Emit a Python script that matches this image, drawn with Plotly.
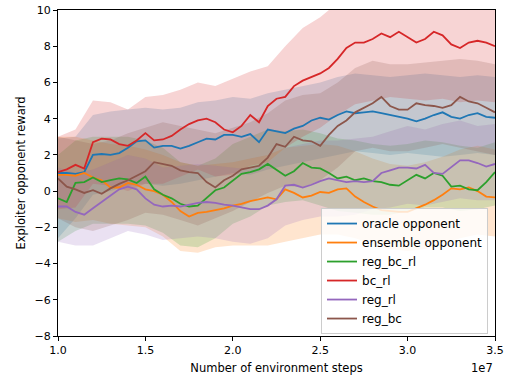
import plotly.graph_objects as go

# x in units of 1e7 environment steps
steps = [round(1.0 + 0.05 * i, 2) for i in range(51)]
band_steps = [round(1.0 + 0.1 * i, 1) for i in range(26)]

series_names = ["oracle opponent", "ensemble opponent", "reg_bc_rl", "bc_rl", "reg_rl", "reg_bc"]
colors = ["#1f77b4", "#ff7f0e", "#2ca02c", "#d62728", "#9467bd", "#8c564b"]

oracle = [1.0, 1.0, 0.95, 1.05, 2.0, 2.05, 2.0, 2.1, 2.4, 2.75, 2.8, 2.4, 2.5, 2.5, 2.35, 2.5,
          2.7, 2.9, 2.85, 3.1, 3.1, 3.0, 3.15, 2.7, 3.4, 3.3, 3.2, 3.45, 3.6, 3.9, 4.05, 3.95,
          4.2, 4.4, 4.3, 4.35, 4.4, 4.3, 4.2, 4.1, 4.0, 3.85, 4.0, 4.2, 4.35, 4.1, 4.0, 4.2,
          4.3, 4.1, 4.05]
ensemble = [0.9, 0.9, 0.85, 1.0, 0.75, 0.6, 0.2, 0.2, 0.45, 0.35, 0.1, 0.0, -0.2, -0.6, -1.1,
            -1.4, -1.2, -1.15, -1.05, -0.95, -0.8, -0.7, -0.55, -0.45, -0.35, -0.45, 0.1, -0.1,
            -0.35, -0.25, -0.05, -0.1, 0.1, 0.15, -0.3, -0.6, -0.85, -1.05, -1.1, -1.15, -1.15,
            -0.95, -0.75, -0.5, -0.2, 0.15, 0.1, 0.2, 0.0, -0.3, -0.35]
reg_bc_rl = [-0.4, -0.6, 0.45, 0.5, 0.75, 0.5, 0.6, 0.7, 0.65, 0.45, 0.8, 0.1, -0.2, -0.4, -0.7,
             -0.85, -0.8, -0.35, 0.05, 0.2, 0.55, 0.95, 1.05, 1.2, 1.5, 1.15, 0.85, 1.1, 1.55,
             1.3, 1.25, 1.0, 0.7, 0.8, 0.6, 0.7, 0.55, 0.5, 0.35, 0.3, 0.6, 0.9, 0.7, 1.0, 0.85,
             0.25, 0.3, 0.1, 0.05, 0.5, 1.05]
bc_rl = [1.05, 1.2, 1.45, 1.25, 2.7, 2.9, 2.85, 2.6, 2.5, 2.8, 3.2, 2.8, 2.85, 3.05, 3.4, 3.7,
         3.9, 4.0, 3.8, 3.4, 3.25, 3.6, 4.2, 3.8, 4.7, 5.1, 5.2, 5.8, 6.1, 6.3, 6.5, 6.8, 7.3,
         7.9, 8.2, 8.2, 8.4, 8.7, 8.5, 8.8, 8.5, 8.2, 8.4, 8.8, 8.6, 8.1, 7.9, 8.2, 8.3, 8.2, 8.0]
reg_rl = [-0.85, -0.85, -1.15, -1.3, -0.95, -0.6, -0.3, 0.1, 0.25, 0.1, -0.4, -0.75, -0.85, -0.8,
          -0.85, -0.75, -0.65, -0.6, -0.65, -0.75, -0.8, -0.9, -1.0, -1.0, -0.8, -0.45, 0.3, 0.35,
          0.2, 0.35, 0.55, 0.7, 0.6, 0.5, 0.55, 0.5, 0.55, 1.0, 1.15, 1.3, 1.3, 1.25, 1.45, 1.0,
          0.95, 1.3, 1.7, 1.7, 1.55, 1.35, 1.5]
reg_bc = [0.7, 0.25, 0.1, -0.1, 0.05, -0.15, 0.15, 0.4, 0.6, 0.85, 1.1, 1.6, 1.5, 1.4, 1.15, 1.05,
          1.0, 0.5, 0.2, 0.6, 0.85, 1.2, 1.3, 1.4, 1.85, 2.6, 2.45, 3.0, 2.8, 2.75, 2.5, 3.1, 3.6,
          3.9, 4.35, 4.6, 4.85, 5.2, 4.7, 4.5, 4.5, 4.85, 4.75, 4.7, 4.6, 4.75, 5.2, 4.95, 4.85,
          4.6, 4.35]
means = [oracle, ensemble, reg_bc_rl, bc_rl, reg_rl, reg_bc]

oracle_hi = [2.9, 3.0, 4.2, 4.4, 4.5, 4.6, 4.5, 4.6, 4.9, 5.0, 5.2, 5.1, 5.4, 5.6, 5.8, 6.0, 6.3,
             6.5, 6.4, 6.3, 6.4, 6.5, 6.4, 6.3, 6.4, 6.3]
oracle_lo = [-2.6, -1.5, -0.2, 0.0, 0.3, 0.4, 0.3, 0.4, 0.6, 0.8, 1.0, 0.9, 1.2, 1.4, 1.6, 1.8,
             2.0, 2.2, 2.1, 2.0, 2.1, 2.0, 1.9, 2.0, 2.1, 2.0]
ensemble_hi = [3.0, 3.0, 2.8, 2.6, 2.5, 2.3, 2.0, 1.6, 1.4, 1.5, 1.6, 1.8, 2.0, 2.4, 2.5, 2.6,
               2.5, 2.2, 1.8, 1.5, 1.4, 1.6, 1.9, 2.3, 2.5, 2.3]
ensemble_lo = [-1.5, -1.7, -1.6, -1.8, -1.9, -2.0, -2.5, -3.3, -3.4, -3.1, -3.0, -3.0, -3.0, -2.8,
               -2.6, -2.4, -2.4, -2.6, -2.9, -3.2, -3.3, -3.2, -2.9, -2.6, -2.4, -2.5]
reg_bc_rl_hi = [2.0, 2.8, 3.0, 3.0, 3.0, 2.8, 2.4, 1.6, 1.4, 1.8, 2.6, 3.0, 3.4, 3.3, 3.4, 3.2,
                2.9, 2.8, 2.6, 2.5, 2.6, 2.8, 2.7, 2.5, 2.4, 2.7]
reg_bc_rl_lo = [-2.8, -2.2, -1.8, -1.8, -1.8, -1.9, -2.3, -3.0, -3.1, -2.6, -1.8, -1.4, -0.8, -0.6,
                -0.5, -0.8, -1.1, -1.2, -1.3, -1.3, -1.1, -0.9, -0.9, -1.1, -1.0, -0.8]
bc_rl_hi = [3.0, 3.4, 5.0, 4.9, 4.5, 5.2, 5.3, 5.6, 6.0, 5.8, 6.2, 6.6, 6.9, 8.0, 9.0, 9.6, 10.4,
            10.8, 11.0, 11.2, 11.2, 11.3, 11.2, 11.1, 11.2, 11.0]
bc_rl_lo = [-1.0, -0.9, 0.4, 0.3, 0.0, 0.4, 0.4, 0.8, 1.2, 0.8, 0.9, 1.4, 1.6, 2.4, 3.0, 3.5,
            4.2, 4.8, 5.0, 5.2, 5.1, 5.0, 5.1, 4.9, 5.0, 4.9]
reg_rl_hi = [1.3, 1.0, 1.2, 1.6, 2.0, 1.8, 1.3, 1.4, 1.5, 1.4, 1.3, 1.2, 1.6, 2.4, 2.6, 2.8, 2.8,
             2.9, 3.0, 3.3, 3.6, 3.4, 3.7, 3.9, 3.6, 3.7]
reg_rl_lo = [-2.8, -3.0, -3.0, -2.6, -2.2, -2.4, -2.7, -2.6, -2.5, -2.6, -2.8, -2.9, -2.6, -1.9,
             -1.6, -1.4, -1.4, -1.3, -1.0, -0.9, -0.7, -0.8, -0.6, -0.4, -0.5, -0.5]
reg_bc_hi = [3.0, 2.8, 2.6, 2.8, 3.2, 3.5, 3.8, 3.6, 3.4, 3.2, 3.5, 3.8, 4.3, 5.0, 5.3, 5.4, 6.0,
             6.8, 7.2, 7.0, 7.0, 7.1, 7.2, 7.3, 7.2, 7.0]
reg_bc_lo = [-1.5, -2.0, -2.2, -1.9, -1.6, -1.2, -1.3, -1.6, -1.9, -1.5, -1.1, -0.6, -0.1, 0.3,
             0.2, 0.6, 1.3, 2.2, 2.4, 2.2, 2.2, 2.4, 2.6, 2.4, 2.2, 2.0]
uppers = [oracle_hi, ensemble_hi, reg_bc_rl_hi, bc_rl_hi, reg_rl_hi, reg_bc_hi]
lowers = [oracle_lo, ensemble_lo, reg_bc_rl_lo, bc_rl_lo, reg_rl_lo, reg_bc_lo]

x_ticks = [1.0, 1.5, 2.0, 2.5, 3.0, 3.5]
y_ticks = [-8, -6, -4, -2, 0, 2, 4, 6, 8, 10]


def rgba(hex_color, a):
    h = hex_color.lstrip("#")
    r, g, b = int(h[0:2], 16), int(h[2:4], 16), int(h[4:6], 16)
    return f"rgba({r},{g},{b},{a})"


fig = go.Figure()
for name, c, lo, hi in zip(series_names, colors, lowers, uppers):
    fig.add_trace(go.Scatter(x=band_steps, y=lo, mode="lines", line=dict(width=0),
                             showlegend=False, hoverinfo="skip"))
    fig.add_trace(go.Scatter(x=band_steps, y=hi, mode="lines", line=dict(width=0),
                             fill="tonexty", fillcolor=rgba(c, 0.2),
                             showlegend=False, hoverinfo="skip"))
for name, c, m in zip(series_names, colors, means):
    fig.add_trace(go.Scatter(x=steps, y=m, mode="lines", name=name,
                             line=dict(color=c, width=1.8)))

FAM = "DejaVu Sans"
tick_font = dict(family=FAM, size=11, color="#000000")
title_font = dict(family=FAM, size=11.5, color="#000000")
fig.update_layout(
    width=505, height=376,
    margin=dict(l=58, r=10, t=10, b=40),
    paper_bgcolor="white", plot_bgcolor="white",
    font=tick_font,
    showlegend=True,
    legend=dict(x=0.984, y=0.006, xanchor="right", yanchor="bottom",
                traceorder="normal",
                bgcolor="rgba(255,255,255,0.8)", bordercolor="#cccccc", borderwidth=1,
                font=dict(family=FAM, size=12, color="#000000"),
                tracegroupgap=0),
)
fig.update_xaxes(range=[1.0, 3.5], tickvals=x_ticks, ticktext=[f"{v:.1f}" for v in x_ticks],
                 showgrid=False, zeroline=False, showline=True, linecolor="black",
                 linewidth=1, mirror=True, ticks="outside", ticklen=4, tickcolor="black",
                 automargin=False, tickfont=tick_font,
                 title=dict(text="Number of environment steps", standoff=7, font=title_font))
fig.update_yaxes(range=[-8, 10], tickvals=y_ticks,
                 ticktext=[("\u2212" + str(-v)) if v < 0 else str(v) for v in y_ticks],
                 showgrid=False, zeroline=False, showline=True, linecolor="black",
                 linewidth=1, mirror=True, ticks="outside", ticklen=4, tickcolor="black",
                 automargin=False, tickfont=tick_font,
                 title=dict(text="Exploiter opponent reward", standoff=6, font=title_font))
fig.add_annotation(text="1e7", xref="paper", yref="paper", x=1.0, y=-0.098,
                   xanchor="right", yanchor="middle", showarrow=False,
                   font=dict(family=FAM, size=11.5, color="#000000"))
fig.write_html("out.html")
